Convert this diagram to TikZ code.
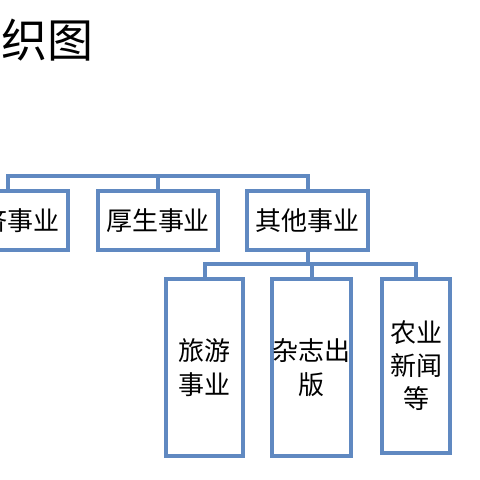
\documentclass[tikz,border=0pt]{standalone}
\usepackage{fontspec}
\setmainfont{Noto Sans CJK SC}
\definecolor{boxblue}{RGB}{96,137,193}
\begin{document}
\begin{tikzpicture}[x=1pt,y=-1pt,
  orgbox/.style={draw=boxblue,line width=4pt,fill=white,inner sep=0pt,align=center,
    font=\fontsize{26}{34}\selectfont},
  link/.style={draw=boxblue,line width=4pt,line cap=rect}]
\useasboundingbox (0,0) rectangle (480,480);
\clip (0,0) rectangle (480,480);
\node[anchor=west,inner sep=0pt,font=\fontsize{46}{50}\selectfont] (title) at (1,40) {织图};
% row 1
\node[orgbox,minimum width=120pt,minimum height=59pt] (e1) at (8,220.5) {\makebox[104pt][r]{济事业}};
\node[orgbox,minimum width=120pt,minimum height=59pt] (e2) at (158,220.5) {厚生事业};
\node[orgbox,minimum width=121pt,minimum height=59pt] (e3) at (307.5,220.5) {其他事业};
% row 2
\node[orgbox,minimum width=77pt,minimum height=177pt] (o1) at (204.5,367.5) {旅游\\事业};
\node[orgbox,minimum width=79pt,minimum height=177pt] (o2) at (311.5,367.5) {杂志出\\版};
\node[orgbox,minimum width=68pt,minimum height=174pt,font=\fontsize{26}{33}\selectfont] (o3) at (416,366) {农业\\新闻\\等};
% connectors
\coordinate (bus1) at (158,176);
\coordinate (bus2) at (309,264);
\draw[link] (e1.north) |- (bus1) -| (e3.north);
\draw[link] (e2.north) -- (bus1);
\draw[link] (e3.south) -- (e3.south |- bus2);
\draw[link] (o1.north) |- (bus2) -| (o3.north);
\draw[link] (o2.north) -- (o2.north |- bus2);
\end{tikzpicture}
\end{document}
